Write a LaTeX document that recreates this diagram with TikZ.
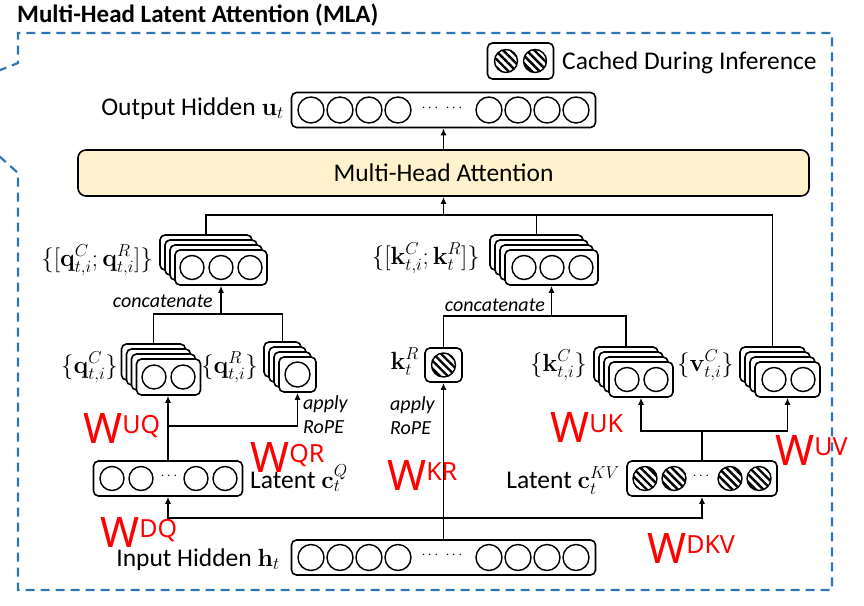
\documentclass[tikz,border=0pt]{standalone}
\usepackage[no-math]{fontspec}
\setmainfont{Carlito}
\newfontfamily\wfont{Noto Sans}
\usetikzlibrary{arrows.meta,patterns.meta}
\definecolor{mlablue}{HTML}{2E75B6}
\definecolor{mlayellow}{HTML}{FFF2CC}
\definecolor{mlared}{HTML}{FF0000}

\begin{document}
\begin{tikzpicture}[
  x=1pt,y=-1pt,
  txt/.style={font=\fontsize{25.5}{30}\selectfont,inner sep=0pt},
  mlab/.style={font=\fontsize{26}{30}\selectfont,inner sep=0pt,anchor=base east},
  note/.style={font=\fontsize{20}{24}\selectfont\itshape,inner sep=0pt},
  vecbox/.style={draw,line width=1.6pt,rounded corners=5pt,fill=white,inner sep=0pt},
  cell/.style={circle,draw,line width=1.4pt,minimum size=26,inner sep=0pt},
  hcell/.style={cell,pattern={Lines[angle=-45,distance=5.5pt,line width=2.4pt]}},
  dots/.style={inner sep=0pt,font=\fontsize{14}{14}\selectfont},
  wlab/.style={anchor=base west,inner sep=0pt,text=mlared,font=\wfont\fontsize{42}{42}\selectfont},
  link/.style={line width=1.6pt},
  arr/.style={link,-{Latex[length=7pt,width=6pt]}},
  cache/.style={draw=mlablue,line width=2.2pt,dash pattern=on 9pt off 6pt},
]
\path[use as bounding box] (0,0) rectangle (864,605);
% dashed callout round the whole block
\begin{scope}
  \clip (0,0) rectangle (864,605);
  \draw[cache] (-30,82) -- (18,63) -- (18,33) -- (832,33) -- (832,590) -- (18,590) -- (18,173) -- (-30,130);
\end{scope}
\node[txt,font=\fontsize{25}{30}\selectfont\bfseries,anchor=base west] (title) at (17,22) {Multi-Head Latent Attention (MLA)};

% legend
\node[vecbox,minimum width=66,minimum height=36] (legend) at (520.5,61) {};
\foreach \x [count=\i] in {506,535} \node[hcell,minimum size=23] (leg\i) at (\x,61) {};
\node[txt,anchor=base west] (legendtxt) at (562,69) {Cached During Inference};

% output hidden and attention
\node[vecbox,minimum width=304,minimum height=35] (out) at (443.5,110) {};
\foreach \x [count=\i] in {311,340,369,398,489,518,547,576} \node[cell] (out\i) at (\x,110) {};
\node[dots] (outdota) at (430,108) {$\cdots$};
\node[dots] (outdotb) at (454,108) {$\cdots$};
\node[txt,anchor=base east] (outlbl) at (284,115) {Output Hidden $\mathbf{u}_t$};
\node[vecbox,fill=mlayellow,rounded corners=8pt,minimum width=731,minimum height=46,font=\fontsize{25.5}{30}\selectfont] (mha) at (443.5,173) {Multi-Head Attention};
\draw[arr] (mha.north) -- (out.south);

% stacked per-head vectors (back layer named -b)
\foreach \nm/\cx/\cy/\w/\h in {qcat/221/267.5/92/35, kcat/551.5/267.5/93/35, qC/168.5/377/64/36,
    qR/297.5/374.5/37/35, kC/641/379.5/64/35, vC/787.5/379.5/65/35}{
  \node[vecbox,minimum width=\w,minimum height=\h] (\nm-b) at (\cx-15,\cy-15) {};
  \node[vecbox,minimum width=\w,minimum height=\h] (\nm-m) at (\cx-10,\cy-10) {};
  \node[vecbox,minimum width=\w,minimum height=\h] (\nm-f) at (\cx-5,\cy-5) {};
  \node[vecbox,minimum width=\w,minimum height=\h] (\nm) at (\cx,\cy) {};
}
\foreach \x/\y [count=\i] in {192/267.5,221/267.5,250/267.5,524/267.5,552/267.5,581/267.5,
    154/377,183/377,627/379.5,656/379.5,774/379.5,803/379.5}
  \node[cell,minimum size=24] (sc\i) at (\x,\y) {};
\node[cell,minimum size=25] (qRc) at (297.5,374.5) {};

% decoupled RoPE key
\node[vecbox,minimum width=37,minimum height=34] (kR) at (443.5,365) {};
\node[hcell,minimum size=24] (kRc) at (443.5,365) {};

% latent vectors
\node[vecbox,minimum width=149,minimum height=35] (cQ) at (168,478.5) {};
\foreach \x [count=\i] in {112,141,196,225} \node[cell,minimum size=24] (cQ\i) at (\x,478.5) {};
\node[dots] (cQdots) at (169,476) {$\cdots$};
\node[vecbox,minimum width=150,minimum height=35] (cKV) at (702,478.5) {};
\foreach \x [count=\i] in {645,674,730,759} \node[hcell,minimum size=24] (cKV\i) at (\x,478.5) {};
\node[dots] (cKVdots) at (701,476) {$\cdots$};
\node[txt,anchor=base west] (cQlbl) at (250,488) {Latent $\mathbf{c}_t^Q$};
\node[txt,anchor=base east] (cKVlbl) at (620,488) {Latent $\mathbf{c}_t^{KV}$};

% input hidden
\node[vecbox,minimum width=304,minimum height=35] (inp) at (443.5,557.5) {};
\foreach \x [count=\i] in {311,340,369,398,489,518,547,576} \node[cell] (inp\i) at (\x,557.5) {};
\node[dots] (inpdota) at (430,555) {$\cdots$};
\node[dots] (inpdotb) at (454,555) {$\cdots$};
\node[txt,anchor=base east] (inplbl) at (280,566) {Input Hidden $\mathbf{h}_t$};

% vector labels
\node[mlab] (qcatlbl) at (153,266) {$\{[\mathbf{q}_{t,i}^C;\mathbf{q}_{t,i}^R]\}$};
\node[mlab] (kcatlbl) at (480,264) {$\{[\mathbf{k}_{t,i}^C;\mathbf{k}_{t}^R]\}$};
\node[mlab] (qClbl) at (118,373) {$\{\mathbf{q}_{t,i}^C\}$};
\node[mlab] (qRlbl) at (258,373) {$\{\mathbf{q}_{t,i}^R\}$};
\node[mlab] (kRlbl) at (419,369) {$\mathbf{k}_{t}^R$};
\node[mlab] (kClbl) at (587,371) {$\{\mathbf{k}_{t,i}^C\}$};
\node[mlab] (vClbl) at (734,371) {$\{\mathbf{v}_{t,i}^C\}$};
\node[note,anchor=base east] (qconcat) at (213,307) {concatenate};
\node[note,anchor=base east] (kconcat) at (545,311) {concatenate};
\node[note,anchor=north west,align=left] (qrope) at (303,395) {apply\\RoPE};
\node[note,anchor=north west,align=left] (krope) at (390,396) {apply\\RoPE};

% connectors
\coordinate (mhajoin) at (443.5,215);
\draw[arr] (mhajoin) -- (mha.south);
\draw[link] (qcat-b.north) |- (mhajoin) -| (vC-b.north);
\draw[link] (kcat-b.north) -- (kcat-b.north |- mhajoin);
\coordinate (qjoin) at (221,314);
\draw[arr] (qjoin) -- (qcat.south);
\draw[link] (qC-b.north) |- (qjoin) -| (qR-b.north);
\coordinate (kjoin) at (551.5,316);
\draw[arr] (kjoin) -- (kcat.south);
\draw[link] (kR.north) |- (kjoin) -| (kC-b.north);
\coordinate (ropejoin) at (168,426);
\draw[arr] (cQ.north) -- (cQ.north |- qC.south);
\draw[arr] (ropejoin) -| (qR.south);
\coordinate (kvjoin) at (702,431);
\draw[link] (cKV.north) -- (kvjoin);
\draw[arr] (kvjoin) -| (kC.south);
\draw[arr] (kvjoin) -| (vC.south);
\coordinate (injoin) at (443.5,518);
\draw[arr] (inp.north) -- (kR.south);
\draw[arr] (injoin) -| (cQ.south);
\draw[arr] (injoin) -| (cKV.south);

% projection matrices
\node[wlab] (wuq) at (83,443) {W\raisebox{10pt}{\fontsize{25}{25}\selectfont UQ}};
\node[wlab] (wqr) at (250,472) {W\raisebox{10pt}{\fontsize{25}{25}\selectfont QR}};
\node[wlab] (wkr) at (387,490) {W\raisebox{10pt}{\fontsize{25}{25}\selectfont KR}};
\node[wlab] (wdq) at (100,547) {W\raisebox{10pt}{\fontsize{25}{25}\selectfont DQ}};
\node[wlab] (wuk) at (550,442) {W\raisebox{10pt}{\fontsize{25}{25}\selectfont UK}};
\node[wlab] (wuv) at (775,465) {W\raisebox{10pt}{\fontsize{25}{25}\selectfont UV}};
\node[wlab] (wdkv) at (647,563) {W\raisebox{10pt}{\fontsize{25}{25}\selectfont DKV}};
\end{tikzpicture}
\end{document}
